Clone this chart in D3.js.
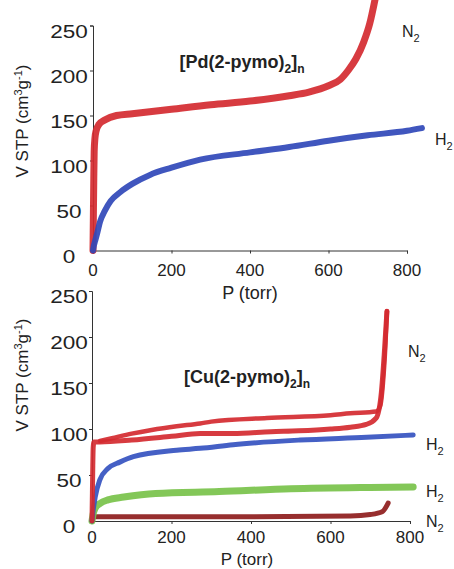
<!DOCTYPE html>
<html>
<head>
<meta charset="utf-8">
<script src="https://cdn.jsdelivr.net/npm/d3@7"></script>
<style>
  body { margin: 0; background: #fff; }
  text { font-family: "Liberation Sans", Arial, sans-serif; fill: #222; }
</style>
</head>
<body>
<div id="chart"></div>
<script>
// [P (torr), V STP (cm3/g)]
var pdN2 = [[0,0],[1,40],[2,80],[3,110],[5,125],[8,133],[15,140],[30,145],[60,150],[100,152],
  [200,157],[300,162],[400,166],[500,172],[550,176],[600,183],[630,190],[650,200],[670,213],
  [690,232],[705,252],[720,282]];
var pdH2 = [[0,0],[2,5],[5,10],[10,18],[18,32],[30,44],[45,55],[70,65],[100,74],[145,84],
  [200,92],[273,101],[400,109],[500,115],[600,122],[700,128],[800,133],[838,136]];

var cuN2ads = [[0,0],[1,30],[2,60],[3,80],[5,86],[20,86],[100,88],[200,92],[272,95],[355,95],
  [450,97],[520,98],[600,100],[650,102],[690,105],[715,112],[728,140],[735,180],[742,228]];
var cuN2des = [[20,87],[50,90],[100,95],[150,99],[213,103],[272,106],[300,108],[440,112],
  [600,115],[650,117],[715,119],[725,125],[732,150],[738,190],[742,228]];
var cuH2a = [[0,0],[3,12],[8,26],[20,45],[40,57],[70,64],[104,70],[213,77],[272,79],[355,83],
  [523,88],[691,91],[808,93.5]];
var cuH2b = [[0,0],[3,8],[8,14],[20,19],[40,23],[80,26],[160,30],[320,32],[500,35],[700,36.5],[808,37]];
var cuN2b = [[0,0],[2,4.5],[100,4.5],[400,4.7],[650,5.5],[700,7],[730,10],[745,19.5]];

var xTicks = [0, 200, 400, 600, 800];
var yTicks = [0, 50, 100, 150, 200, 250];

var svg = d3.select("#chart").append("svg")
  .attr("width", 454)
  .attr("height", 569);

function panel(opt) {
  var x = d3.scaleLinear().domain([0, 800]).range(opt.xr);
  var y = d3.scaleLinear().domain([0, 250]).range(opt.yr);
  var g = svg.append("g");

  g.append("g")
    .attr("transform", "translate(0," + y(0) + ")")
    .call(d3.axisBottom(x).tickValues(xTicks).tickSize(3).tickFormat(""))
    .call(function(a) { a.select(".domain").attr("stroke", "#333"); a.selectAll("line").attr("stroke", "#333"); });
  g.append("g")
    .attr("transform", "translate(" + x(0) + ",0)")
    .call(d3.axisLeft(y).tickValues(yTicks).tickSize(3).tickFormat(""))
    .call(function(a) { a.select(".domain").attr("stroke", "#333"); a.selectAll("line").attr("stroke", "#333"); });

  g.selectAll(".xl").data(xTicks).enter().append("text")
    .attr("x", function(d) { return x(d); })
    .attr("y", y(0) + opt.xly)
    .attr("text-anchor", "middle")
    .style("font-size", "17px")
    .text(function(d) { return d; });
  g.selectAll(".yl").data(yTicks).enter().append("text")
    .attr("transform", function(d) { return "translate(69," + (y(d) + 12) + ") scale(1.25,1)"; })
    .attr("text-anchor", "middle")
    .style("font-size", "18px")
    .text(function(d) { return d; });

  g.append("text")
    .attr("x", opt.px).attr("y", opt.py)
    .attr("text-anchor", "middle")
    .style("font-size", opt.ps)
    .text("P (torr)");

  var yl = g.append("text")
    .attr("transform", "translate(28," + opt.ly + ") rotate(-90)")
    .attr("text-anchor", "middle")
    .style("font-size", "17px");
  yl.append("tspan").text("V STP (cm");
  yl.append("tspan").attr("dy", -6).style("font-size", "11px").text("3");
  yl.append("tspan").attr("dy", 6).text("g");
  yl.append("tspan").attr("dy", -6).style("font-size", "11px").text("-1");
  yl.append("tspan").attr("dy", 6).text(")");

  var t = g.append("text")
    .attr("x", opt.tx).attr("y", opt.ty)
    .attr("text-anchor", "middle")
    .style("font-size", "18px").style("font-weight", "bold");
  t.append("tspan").text(opt.title);
  t.append("tspan").attr("dy", 5).style("font-size", "12px").text("2");
  t.append("tspan").attr("dy", -5).text("]");
  t.append("tspan").attr("dy", 5).style("font-size", "12px").text("n");

  var line = d3.line()
    .x(function(d) { return x(d[0]); })
    .y(function(d) { return y(d[1]); })
    .curve(d3.curveMonotoneX);

  opt.series.forEach(function(s) {
    g.append("path")
      .datum(s.data)
      .attr("d", line)
      .attr("fill", "none")
      .attr("stroke", s.color)
      .attr("stroke-width", s.w)
      .attr("stroke-linecap", "round")
      .attr("stroke-linejoin", "round")
      .attr("opacity", 0.92);
  });

  opt.labels.forEach(function(l) {
    var lt = g.append("text").attr("x", l.x).attr("y", l.y).style("font-size", "16px");
    lt.append("tspan").text(l.t);
    lt.append("tspan").attr("dy", 5).style("font-size", "11px").text("2");
  });
}

panel({
  xr: [93, 407], yr: [250.5, 25.5], xly: 25,
  px: 250, py: 299, ps: "18px", ly: 121, tx: 242, ty: 68,
  title: "[Pd(2-pymo)",
  series: [
    { data: pdN2, color: "#d42a30", w: 7 },
    { data: pdH2, color: "#3048b8", w: 6 }
  ],
  labels: [
    { t: "N", x: 402, y: 37 },
    { t: "H", x: 435, y: 145 }
  ]
});

panel({
  xr: [92, 410], yr: [521, 291], xly: 22,
  px: 247, py: 565, ps: "17px", ly: 375, tx: 247, ty: 383,
  title: "[Cu(2-pymo)",
  series: [
    { data: cuN2b, color: "#8e1c1c", w: 5 },
    { data: cuH2b, color: "#78c24a", w: 7 },
    { data: cuH2a, color: "#3552c0", w: 5 },
    { data: cuN2des, color: "#d42a30", w: 4.5 },
    { data: cuN2ads, color: "#d42a30", w: 5 }
  ],
  labels: [
    { t: "N", x: 408, y: 357 },
    { t: "H", x: 426, y: 450 },
    { t: "H", x: 426, y: 497 },
    { t: "N", x: 426, y: 527 }
  ]
});
</script>
</body>
</html>
